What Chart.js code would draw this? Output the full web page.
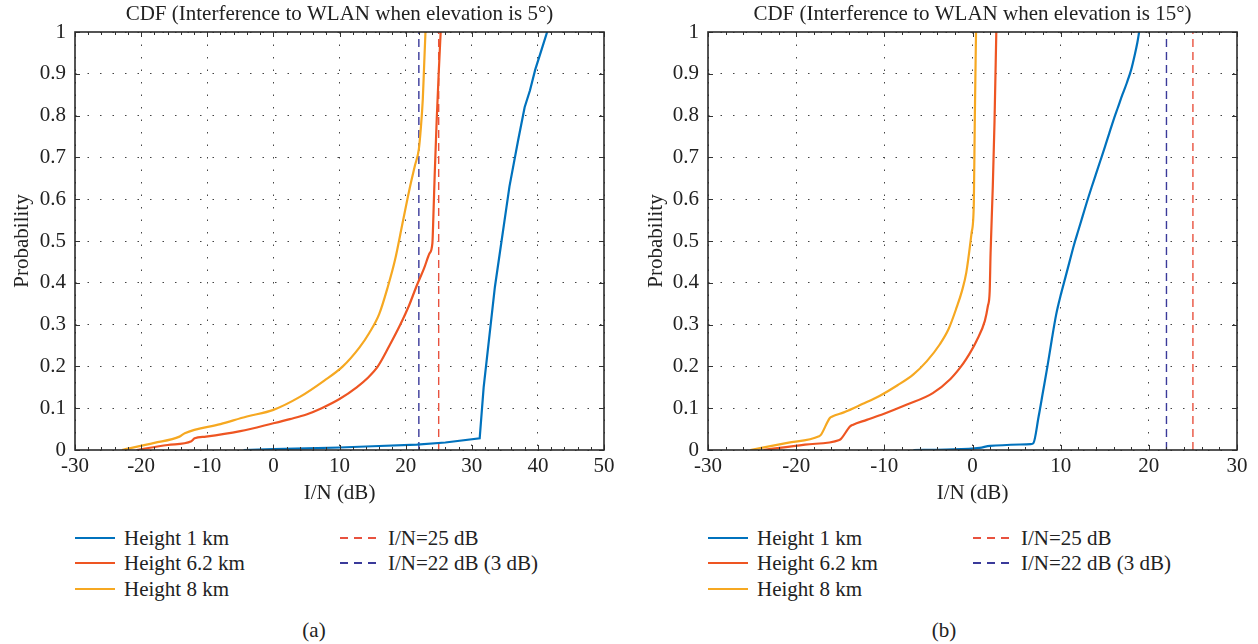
<!DOCTYPE html>
<html><head><meta charset="utf-8">
<script src="https://cdn.jsdelivr.net/npm/chart.js@4.4.0/dist/chart.umd.min.js"></script>
<style>
html,body{margin:0;padding:0;background:#fff;}
#wrap{position:relative;width:1258px;height:644px;overflow:hidden;font-family:"Liberation Serif","DejaVu Serif",serif;color:#222;}
.cv{position:absolute;top:0;}
.lg{position:absolute;font-size:21px;line-height:22px;white-space:nowrap;transform:translateY(-50%);}
.sw{position:absolute;width:40px;height:0;}
.cap{position:absolute;font-size:21px;transform:translate(-50%,-50%);white-space:nowrap;}
</style></head>
<body>
<div id="wrap">
  <div class="cv" style="left:0;width:629px;height:510px;"><canvas id="cA"></canvas></div>
  <div class="cv" style="left:629px;width:629px;height:510px;"><canvas id="cB"></canvas></div>
  <div id="legends"></div>
  <div class="cap" style="left:314px;top:630px;">(a)</div>
  <div class="cap" style="left:944px;top:630px;">(b)</div>
</div>
<script>
// ---------- DATA ----------
const seriesNames = ['Height 1 km','Height 6.2 km','Height 8 km','I/N=25 dB','I/N=22 dB (3 dB)'];
const titleA = 'CDF (Interference to WLAN when elevation is 5°)';
const titleB = 'CDF (Interference to WLAN when elevation is 15°)';
const xTicksA = [-30,-20,-10,0,10,20,30,40,50];
const xTickLabelsA = ['-30','-20','-10','0','10','20','30','40','50'];
const xTicksB = [-30,-20,-10,0,10,20,30];
const xTickLabelsB = ['-30','-20','-10','0','10','20','30'];
const yTicks = [0,0.1,0.2,0.3,0.4,0.5,0.6,0.7,0.8,0.9,1];
const yTickLabels = ['0','0.1','0.2','0.3','0.4','0.5','0.6','0.7','0.8','0.9','1'];
const thresholdX = [25, 22];
const thresholdP = [0, 1];

// (a) elevation 5°
const a1kmX  = [-4.5, 0, 5, 10, 15, 21.7, 26, 31.2, 31.8, 33.5, 35.7, 37, 38.0, 38.8, 39.6, 40.5, 41.4];
const a1kmP  = [0, 0.002, 0.004, 0.006, 0.009, 0.013, 0.018, 0.028, 0.15, 0.39, 0.63, 0.74, 0.82, 0.86, 0.91, 0.955, 1.0];
const a62kmX = [-20.7, -16, -12.4, -11.9, -10.2, -5, 0, 2.5, 5, 7.3, 10, 12.6, 14.3, 15.8, 17.5, 19.2, 20.5, 21.6, 22.8, 23.6, 24.05, 24.2, 24.4, 24.7, 25.0, 25.3];
const a62kmP = [0, 0.012, 0.021, 0.028, 0.032, 0.045, 0.064, 0.074, 0.085, 0.1, 0.122, 0.15, 0.173, 0.2, 0.248, 0.3, 0.345, 0.39, 0.435, 0.47, 0.495, 0.56, 0.66, 0.79, 0.9, 1.0];
const a8kmX  = [-22.9, -18, -14.2, -13.4, -8, -4, 0, 4, 7.7, 10.5, 13, 14.5, 16, 17.3, 18.4, 19.5, 20.6, 21.4, 22.0, 22.3, 22.6, 22.8, 23.0];
const a8kmP  = [0, 0.017, 0.032, 0.04, 0.062, 0.08, 0.096, 0.127, 0.166, 0.2, 0.245, 0.28, 0.325, 0.39, 0.455, 0.54, 0.625, 0.68, 0.72, 0.77, 0.84, 0.92, 1.0];

// (b) elevation 15°
const b1kmX  = [-6.7, -3, 0.8, 2.0, 6.6, 6.9, 7.5, 8.0, 8.5, 9.0, 9.5, 10.0, 10.5, 11.0, 11.5, 12.0, 12.5, 13.0, 13.5, 14.0, 14.5, 15.0, 15.5, 16.0, 16.5, 17.0, 17.5, 18.0, 18.4, 18.7, 18.9];
const b1kmP  = [0, 0.001, 0.005, 0.01, 0.014, 0.016, 0.08, 0.14, 0.2, 0.265, 0.325, 0.37, 0.41, 0.45, 0.49, 0.525, 0.56, 0.595, 0.628, 0.66, 0.692, 0.724, 0.757, 0.79, 0.82, 0.85, 0.878, 0.91, 0.945, 0.975, 1.0];
const b62kmX = [-23.7, -19, -15.1, -14.9, -13.9, -13.6, -12, -10.1, -7.5, -4.5, -2.5, -1.4, -0.7, 0.45, 1.4, 1.75, 1.95, 2.05, 2.3, 2.5, 2.7];
const b62kmP = [0, 0.013, 0.024, 0.027, 0.056, 0.06, 0.072, 0.086, 0.108, 0.136, 0.17, 0.197, 0.218, 0.261, 0.309, 0.345, 0.38, 0.47, 0.629, 0.788, 1.0];
const b8kmX  = [-25.2, -21, -17.4, -17.2, -16.2, -15.9, -14.6, -12.5, -10.5, -8.5, -6.7, -5.2, -3.7, -2.7, -1.8, -1.2, -0.7, -0.1, 0.15, 0.26, 0.4];
const b8kmP  = [0, 0.017, 0.033, 0.036, 0.076, 0.08, 0.09, 0.11, 0.13, 0.155, 0.181, 0.212, 0.253, 0.29, 0.341, 0.38, 0.425, 0.52, 0.589, 0.789, 1.0];

// ---------- STYLE ----------
const C_BLUE = '#0072BD', C_RED = '#EE5522', C_YEL = '#F6A821', C_DRED = '#E8523F', C_DBLUE = '#3A3A9A';
const FONT = '"Liberation Serif", "DejaVu Serif", serif';
Chart.defaults.font.family = FONT;
Chart.defaults.font.size = 21;
Chart.defaults.color = '#222';
const pts = (xs, ps) => xs.map((x, i) => ({x, y: ps[i]}));

const framePlugin = {
  id: 'frame',
  afterDatasetsDraw(chart, args, opts) {
    const {ctx, chartArea: a, scales} = chart;
    ctx.save();
    ctx.strokeStyle = '#333';
    ctx.lineWidth = 1;
    ctx.beginPath();
    scales.x.ticks.forEach(t => {
      const px = Math.round(scales.x.getPixelForValue(t.value)) + 0.5;
      ctx.moveTo(px, a.bottom); ctx.lineTo(px, a.bottom - 5);
      ctx.moveTo(px, a.top); ctx.lineTo(px, a.top + 5);
    });
    for (let v = opts.min; v <= opts.max; v += 2) {
      const px = Math.round(scales.x.getPixelForValue(v)) + 0.5;
      ctx.moveTo(px, a.bottom); ctx.lineTo(px, a.bottom - 3);
      ctx.moveTo(px, a.top); ctx.lineTo(px, a.top + 3);
    }
    scales.y.ticks.forEach(t => {
      const py = Math.round(scales.y.getPixelForValue(t.value)) + 0.5;
      ctx.moveTo(a.left, py); ctx.lineTo(a.left + 5, py);
      ctx.moveTo(a.right, py); ctx.lineTo(a.right - 5, py);
    });
    ctx.stroke();
    ctx.lineWidth = 1.6;
    ctx.strokeStyle = '#2b2b2b';
    ctx.strokeRect(a.left, a.top, a.right - a.left, a.bottom - a.top);
    ctx.restore();
  }
};

function makeChart(id, title, xTicks, xLabels, s1x, s1p, s62x, s62p, s8x, s8p, yAxisW, padRight, yTitlePad, blueMode) {
  const xmin = xTicks[0], xmax = xTicks[xTicks.length - 1];
  const f = {family: FONT, size: 21, weight: 'normal'};
  return new Chart(document.getElementById(id), {
    type: 'line',
    data: {
      datasets: [
        {label: seriesNames[0], data: pts(s1x, s1p), borderColor: C_BLUE, borderWidth: 2.2, cubicInterpolationMode: blueMode},
        {label: seriesNames[1], data: pts(s62x, s62p), borderColor: C_RED, borderWidth: 2.2, cubicInterpolationMode: 'monotone'},
        {label: seriesNames[2], data: pts(s8x, s8p), borderColor: C_YEL, borderWidth: 2.2, cubicInterpolationMode: 'monotone'},
        {label: seriesNames[3], data: pts([thresholdX[0], thresholdX[0]], thresholdP), borderColor: C_DRED, borderWidth: 1.4, borderDash: [8, 5]},
        {label: seriesNames[4], data: pts([thresholdX[1], thresholdX[1]], thresholdP), borderColor: C_DBLUE, borderWidth: 1.4, borderDash: [8, 5]}
      ]
    },
    options: {
      responsive: true, maintainAspectRatio: false, animation: false,
      devicePixelRatio: 1,
      elements: {point: {radius: 0}, line: {tension: 0}},
      layout: {padding: {left: 0, right: padRight, top: 0, bottom: 4.4}},
      plugins: {
        legend: {display: false}, tooltip: {enabled: false},
        title: {display: true, fullSize: false, text: title, color: '#222', font: f, padding: {top: 1.4, bottom: 5.4}},
        frame: {min: xmin, max: xmax}
      },
      scales: {
        x: {
          type: 'linear', min: xmin, max: xmax,
          afterBuildTicks: s => { s.ticks = xTicks.map(v => ({value: v})); },
          afterFit: s => { s.height = 510 - 4.4 - 450; },
          ticks: {color: '#222', font: f, padding: 4, maxRotation: 0, autoSkip: false,
                  callback: (v, i) => xLabels[i]},
          grid: {color: '#444', lineWidth: 1, drawTicks: false},
          border: {display: false, dash: [1.5, 11]},
          title: {display: true, text: 'I/N (dB)', color: '#222', font: f, padding: {top: 0, bottom: 0}}
        },
        y: {
          type: 'linear', min: 0, max: 1,
          afterBuildTicks: s => { s.ticks = yTicks.map(v => ({value: v})); },
          afterFit: s => { s.width = yAxisW; },
          ticks: {color: '#222', font: f, padding: 9, autoSkip: false,
                  callback: (v, i) => yTickLabels[i]},
          grid: {color: '#444', lineWidth: 1, drawTicks: false},
          border: {display: false, dash: [1.5, 11]},
          title: {display: true, text: 'Probability', color: '#222', font: f, padding: {top: yTitlePad, bottom: 0}}
        }
      }
    },
    plugins: [framePlugin]
  });
}

makeChart('cA', titleA, xTicksA, xTickLabelsA, a1kmX, a1kmP, a62kmX, a62kmP, a8kmX, a8kmP, 75, 25, 9.4, 'default');
makeChart('cB', titleB, xTicksB, xTickLabelsB, b1kmX, b1kmP, b62kmX, b62kmP, b8kmX, b8kmP, 79, 21, 14.4, 'monotone');

// ---------- LEGENDS (HTML) ----------
const legendItems = [
  {x: 75, y: 538, i: 0, c: C_BLUE, dash: false},
  {x: 75, y: 563, i: 1, c: C_RED, dash: false},
  {x: 75, y: 589, i: 2, c: C_YEL, dash: false},
  {x: 340, y: 538, i: 3, c: C_DRED, dash: true},
  {x: 340, y: 563, i: 4, c: C_DBLUE, dash: true}
];
const lg = document.getElementById('legends');
[0, 633].forEach(off => {
  legendItems.forEach(it => {
    const sw = document.createElement('div');
    sw.className = 'sw';
    sw.style.left = (it.x + off) + 'px';
    if (it.dash) {
      sw.style.top = (it.y - 1) + 'px';
      sw.style.width = '38px';
      sw.style.height = '1.5px';
      sw.style.background = 'repeating-linear-gradient(90deg,' + it.c + ' 0 8px, transparent 8px 14px)';
    } else {
      sw.style.top = (it.y - 1) + 'px';
      sw.style.borderTop = '2px solid ' + it.c;
    }
    lg.appendChild(sw);
    const t = document.createElement('div');
    t.className = 'lg';
    t.style.left = (it.x + off + (it.dash ? 48 : 49)) + 'px';
    t.style.top = it.y + 'px';
    t.textContent = seriesNames[it.i];
    lg.appendChild(t);
  });
});
</script>
</body></html>
